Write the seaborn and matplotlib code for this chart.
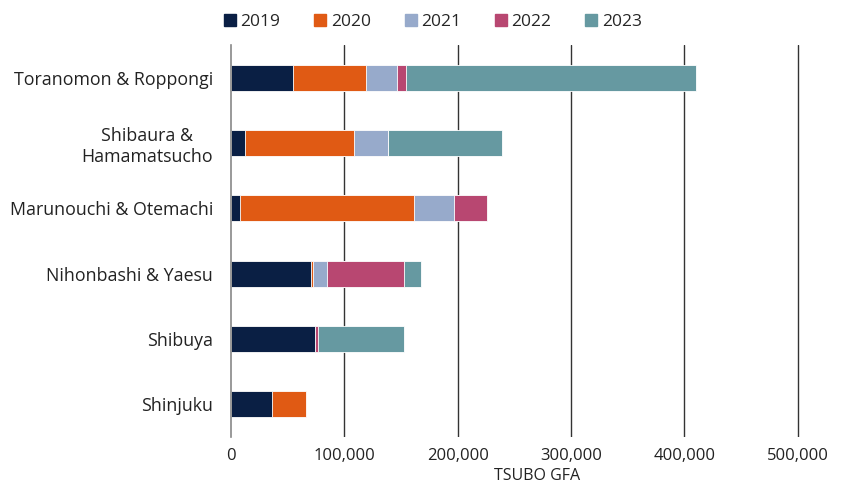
import matplotlib
matplotlib.use("Agg")
import matplotlib.pyplot as plt
import seaborn as sns
import pandas as pd
import numpy as np
from matplotlib.lines import Line2D

categories = ["Toranomon & Roppongi", "Shibaura &\nHamamatsucho", "Marunouchi & Otemachi",
              "Nihonbashi & Yaesu", "Shibuya", "Shinjuku"]
years = ["2019", "2020", "2021", "2022", "2023"]
v2019 = [55000, 12500, 8000, 70500, 74000, 36500]
v2020 = [64500, 96000, 153500, 1500, 0, 30000]
v2021 = [27000, 30000, 35000, 12500, 0, 0]
v2022 = [7500, 0, 29500, 68500, 3000, 0]
v2023 = [256500, 100500, 0, 15000, 76000, 0]
colors = ["#0a1f44", "#e05a14", "#97aacb", "#b84771", "#6699a1"]
xticks = [0, 100000, 200000, 300000, 400000, 500000]

sns.set_theme(style="white")
plt.rcParams["font.family"] = ["Open Sans", "DejaVu Sans"]

series = [v2019, v2020, v2021, v2022, v2023]
cum = np.cumsum(np.array(series), axis=0)

fig = plt.figure(figsize=(8.43, 4.93), dpi=100)
ax = fig.add_axes([0.274, 0.1136, 0.726, 0.7951])

for i in range(len(years) - 1, -1, -1):
    df = pd.DataFrame({"cat": categories, "val": cum[i]})
    sns.barplot(data=df, x="val", y="cat", color=colors[i], orient="h",
                width=0.4, ax=ax, edgecolor="white", linewidth=0.6,
                saturation=1, zorder=3)

ax.set_xlim(0, 540000)
ax.set_ylim(5.5, -0.5)
ax.set_xticks(xticks)
ax.set_xticklabels([f"{t:,}" for t in xticks], fontsize=12, color="#222222")
ax.tick_params(axis="y", labelsize=12.8, colors="#222222", length=0, pad=13)
ax.tick_params(axis="x", length=0, pad=8)
for lbl in ax.get_yticklabels():
    lbl.set_multialignment("center")
ax.set_ylabel("")
ax.set_xlabel("TSUBO GFA", fontsize=11.5, color="#222222", labelpad=3)
for x in xticks[1:]:
    ax.axvline(x, color="#333333", linewidth=1, zorder=1)
for s in ["top", "right", "bottom"]:
    ax.spines[s].set_visible(False)
ax.spines["left"].set_color("#888888")
ax.spines["left"].set_linewidth(1.2)
ax.spines["left"].set_zorder(4)

hs = [Line2D([], [], marker="s", linestyle="", markersize=8, color=colors[k]) for k in range(5)]
fig.legend(hs, years, loc="upper center", bbox_to_anchor=(0.512, 1.003), ncol=5,
           frameon=False, fontsize=12.5, handletextpad=0.1, columnspacing=1.8,
           handlelength=1.0)

fig.savefig("out.png", dpi=100)
